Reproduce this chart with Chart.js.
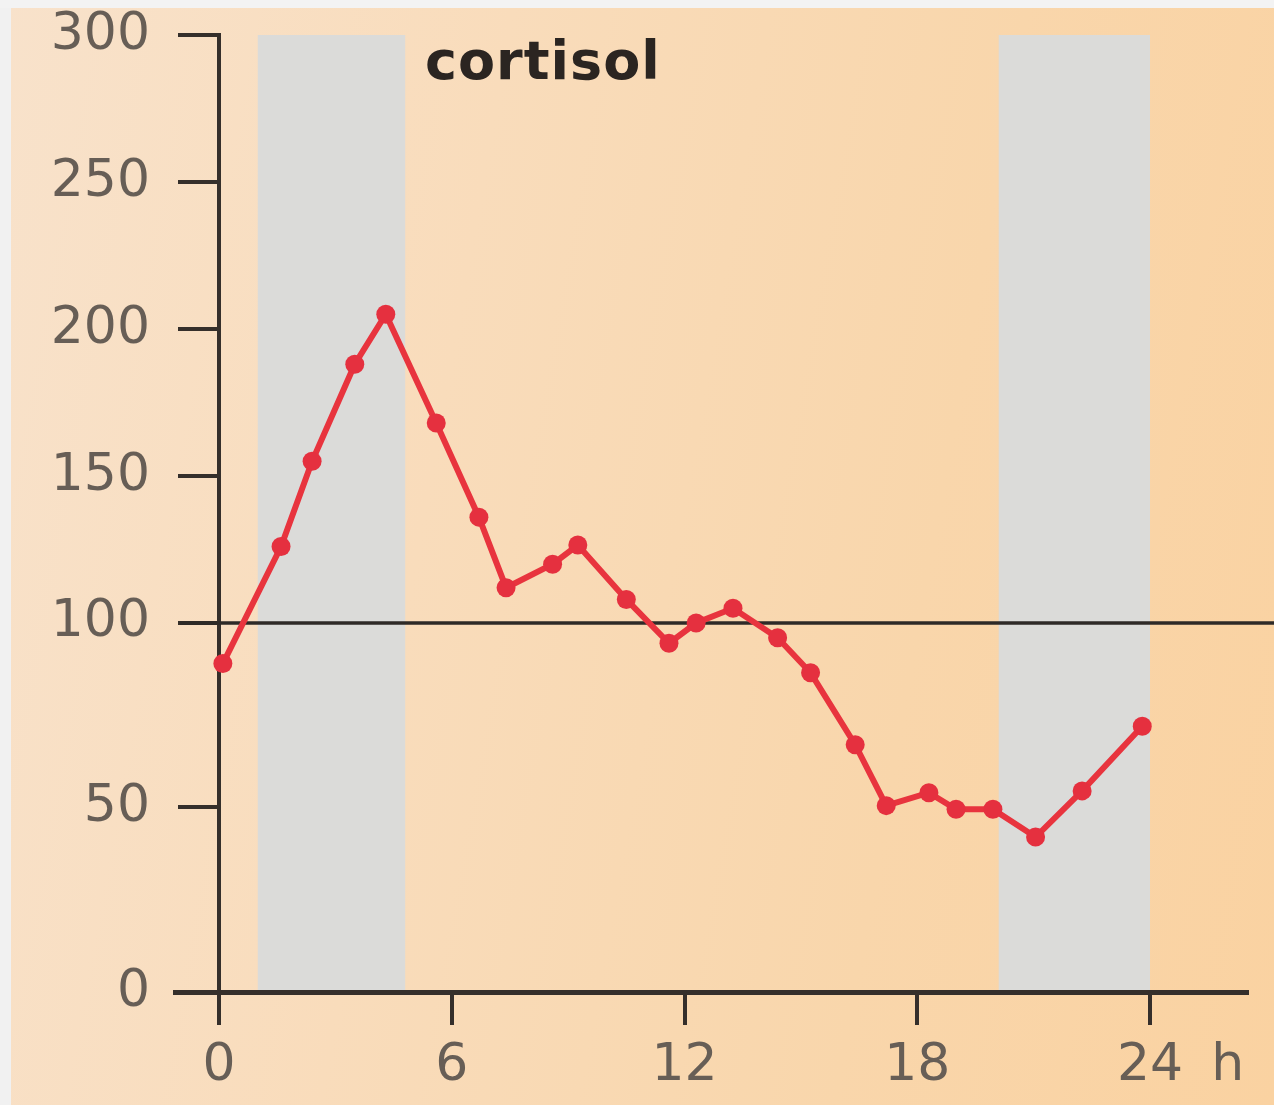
<!DOCTYPE html>
<html>
<head>
<meta charset="utf-8">
<title>cortisol</title>
<script src="https://cdn.jsdelivr.net/npm/chart.js@4.4.1/dist/chart.umd.min.js"></script>
<style>
  html, body { margin: 0; padding: 0; }
  body {
    width: 1274px;
    height: 1105px;
    overflow: hidden;
    position: relative;
    background:
      linear-gradient(to bottom, #f3f3f3 0, #f3f3f3 8px, transparent 8px),
      linear-gradient(to right, #f1f1f1 0, #f1f1f1 11px, transparent 11px),
      linear-gradient(100deg, #f8e2cb 0%, #f9dcbb 35%, #f9d6ab 70%, #fad2a1 100%);
  }
  #chart { position: absolute; left: 0; top: 0; }
  #label {
    position: absolute;
    left: 425px;
    top: 29px;
    font: bold 54px "DejaVu Sans";
    letter-spacing: 1px;
    color: #2b2521;
  }
</style>
</head>
<body>
<canvas id="chart" width="1274" height="1105"></canvas>
<div id="label">cortisol</div>

<script>
// data (hours after midnight / plasma level)
const hours = [0.1, 1.6, 2.4, 3.5, 4.3, 5.6, 6.7, 7.4, 8.6, 9.25, 10.5, 11.6,
               12.3, 13.25, 14.4, 15.25, 16.4, 17.2, 18.3, 19.0, 19.95, 21.05, 22.25, 23.8];
const cortisol = [89, 126, 155, 188, 205, 168, 136, 112, 120, 126.5, 108, 94.5,
                  100, 105, 96, 86.5, 67, 50.5, 54, 49.5, 49.5, 42, 54.5, 72];

const yTicks = [0, 50, 100, 150, 200, 250, 300];
const xTickValues = [0, 6, 12, 18, 24, 26];
const xTickLabels = ['0', '6', '12', '18', '24', 'h'];

// sleep periods (grey bands), in hours
const nightBands = [[1.0, 4.8], [20.1, 24.0]];
const referenceLevel = 100;

// the printed y axis is not even: 0-100 takes more room than 100-300
const Y_BREAK = 100;
const LOW_SHARE = 0.3856;

class PiecewiseScale extends Chart.LinearScale {
  getPixelForValue(value) {
    if (value === null || value === undefined) return NaN;
    let d;
    if (value <= Y_BREAK) {
      d = (value - this.min) / (Y_BREAK - this.min) * LOW_SHARE;
    } else {
      d = LOW_SHARE + (value - Y_BREAK) / (this.max - Y_BREAK) * (1 - LOW_SHARE);
    }
    return this.getPixelForDecimal(d);
  }
  getValueForPixel(pixel) {
    const d = this.getDecimalForPixel(pixel);
    if (d <= LOW_SHARE) return this.min + d / LOW_SHARE * (Y_BREAK - this.min);
    return Y_BREAK + (d - LOW_SHARE) / (1 - LOW_SHARE) * (this.max - Y_BREAK);
  }
}
PiecewiseScale.id = 'piecewise';
PiecewiseScale.defaults = Chart.LinearScale.defaults;
Chart.register(PiecewiseScale);

const axisColor = '#352f2b';
const labelColor = '#675e56';
const tickFont = { family: 'DejaVu Sans', size: 52 };

// labels may overhang the plot, so do not let them push it down
function noOverhang(axis) {
  axis.paddingTop = 0;
  axis.paddingBottom = 0;
}

// grey bands behind everything
const bandsPlugin = {
  id: 'bands',
  beforeDraw(chart) {
    const { ctx, scales: { x, y } } = chart;
    ctx.save();
    ctx.fillStyle = '#dbdbd9';
    nightBands.forEach(b => {
      const x1 = x.getPixelForValue(b[0]);
      const x2 = x.getPixelForValue(b[1]);
      const top = y.getPixelForValue(y.max);
      const bottom = y.getPixelForValue(y.min);
      ctx.fillRect(x1, top, x2 - x1, bottom - top);
    });
    ctx.restore();
  }
};

// the 100 line, from the tick out to the page edge
const refLinePlugin = {
  id: 'refLine',
  beforeDatasetsDraw(chart) {
    const { ctx, scales: { x, y } } = chart;
    const py = y.getPixelForValue(referenceLevel);
    ctx.save();
    ctx.strokeStyle = '#2e2a27';
    ctx.lineWidth = 3.5;
    ctx.beginPath();
    ctx.moveTo(x.getPixelForValue(0) - y.options.grid.tickLength, py);
    ctx.lineTo(chart.width, py);
    ctx.stroke();
    ctx.restore();
  }
};

new Chart(document.getElementById('chart'), {
  type: 'line',
  data: {
    datasets: [{
      label: 'cortisol',
      data: hours.map((h, i) => ({ x: h, y: cortisol[i] })),
      borderColor: '#e8343e',
      borderWidth: 6,
      pointRadius: 9.5,
      pointBackgroundColor: '#e5303f',
      pointBorderWidth: 0,
      tension: 0,
      clip: false
    }]
  },
  options: {
    responsive: false,
    animation: false,
    layout: { padding: { top: 35, left: 0, right: 27, bottom: 0 } },
    plugins: {
      legend: { display: false },
      tooltip: { enabled: false }
    },
    scales: {
      x: {
        type: 'linear',
        min: -1.134,
        max: 26.5,
        afterBuildTicks: axis => { axis.ticks = xTickValues.map(v => ({ value: v })); },
        afterFit: axis => { axis.height = 113; },
        ticks: {
          autoSkip: false,
          maxRotation: 0,
          padding: 10,
          font: tickFont,
          color: labelColor,
          callback: v => xTickLabels[xTickValues.indexOf(v)]
        },
        grid: {
          drawOnChartArea: false,
          tickLength: 33,
          lineWidth: 4,
          color: c => (c.tick && c.tick.value === 26) ? 'rgba(0,0,0,0)' : axisColor
        },
        border: { display: true, color: axisColor, width: 5 }
      },
      // axis line and tick marks, standing at hour 0
      y: {
        type: 'piecewise',
        min: 0,
        max: 300,
        position: { x: 0 },
        afterBuildTicks: axis => { axis.ticks = yTicks.map(v => ({ value: v })); },
        afterFit: noOverhang,
        ticks: { display: false },
        grid: {
          drawOnChartArea: false,
          tickLength: 39,
          lineWidth: 4,
          color: axisColor
        },
        border: { display: true, color: axisColor, width: 4 }
      },
      // the numbers to the left of the ticks
      yLabels: {
        type: 'piecewise',
        axis: 'y',
        min: 0,
        max: 300,
        position: 'left',
        afterBuildTicks: axis => { axis.ticks = yTicks.map(v => ({ value: v })); },
        afterFit: axis => { axis.width = 175; noOverhang(axis); },
        ticks: {
          padding: 25,
          font: tickFont,
          color: labelColor
        },
        grid: { display: false, drawTicks: false },
        border: { display: false }
      }
    }
  },
  plugins: [bandsPlugin, refLinePlugin]
});
</script>
</body>
</html>
